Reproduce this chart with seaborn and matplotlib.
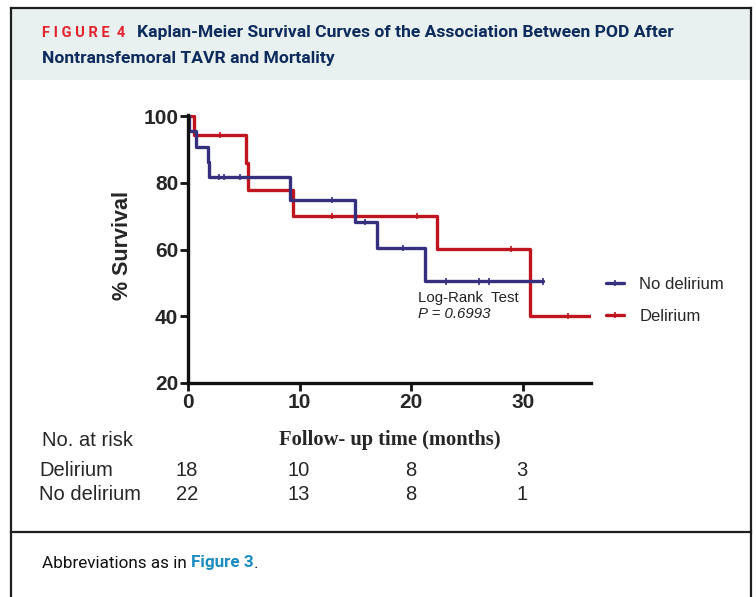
import numpy as np
import pandas as pd
import matplotlib
matplotlib.use("Agg")
import matplotlib.pyplot as plt
import seaborn as sns
from matplotlib.lines import Line2D
from matplotlib.patches import Rectangle

# ---------------- data ----------------
groups = ["No delirium", "Delirium"]
no_del_time = [0, 0.1, 0.7, 1.75, 1.85, 9.1, 15.0, 16.9, 21.2, 31.8]
no_del_surv = [100, 95.5, 90.9, 86.4, 81.8, 74.8, 68.3, 60.5, 50.5, 50.5]
del_time = [0, 0.5, 5.2, 5.4, 9.4, 22.3, 30.6, 36.1]
del_surv = [100, 94.4, 86.0, 77.9, 70.1, 60.2, 40.1, 40.1]
no_del_censor = [2.8, 3.2, 4.7, 12.9, 15.9, 19.3, 23.1, 26.1, 27.0, 31.8]
del_censor = [2.9, 12.9, 20.5, 28.9, 34.0]

risk_times = [0, 10, 20, 30]
risk_delirium = [18, 10, 8, 3]
risk_no_delirium = [22, 13, 8, 1]
x_ticks = [0, 10, 20, 30]
y_ticks = [20, 40, 60, 80, 100]

BLUE = "#34307e"
RED = "#c0151f"
palette = {"No delirium": BLUE, "Delirium": RED}

W, H = 756, 597
fig = plt.figure(figsize=(W / 100, H / 100), dpi=100)
fig.patch.set_facecolor("white")

def fx(x):
    return x / W

def fy(y):
    return 1 - y / H

# ---------------- frame / header ----------------
fig.patches.append(Rectangle((fx(11), fy(80)), fx(739), 72 / H, transform=fig.transFigure,
                             facecolor="#e9f1f0", edgecolor="none", zorder=0))
for (x0, y0, x1, y1) in [(10.5, 7.5, 750.5, 7.5), (10.5, 7.5, 10.5, 597), (750.5, 7.5, 750.5, 597),
                         (10.5, 532, 750.5, 532)]:
    fig.add_artist(Line2D([fx(x0), fx(x1)], [fy(y0), fy(y1)], transform=fig.transFigure,
                          color="#1e1e1e", lw=1.6))

title_fam = ["Liberation Sans Narrow", "Roboto", "DejaVu Sans"]
fig.text(fx(42), fy(33), "F I G U R E  4", color="#e2222d", fontsize=10.5, fontweight="bold",
         family=["Roboto", "DejaVu Sans"], va="center", ha="left")
fig.text(fx(137), fy(33), "Kaplan-Meier Survival Curves of the Association Between POD After",
         color="#0d2b5c", fontsize=12.6, fontweight="bold", family=title_fam, va="center", ha="left")
fig.text(fx(42), fy(58), "Nontransfemoral TAVR and Mortality",
         color="#0d2b5c", fontsize=12.6, fontweight="bold", family=title_fam, va="center", ha="left")

t1 = fig.text(fx(42), fy(563), "Abbreviations as in ", color="#111111", fontsize=12.3,
              family=title_fam, va="center", ha="left")
fig.canvas.draw()
bb = t1.get_window_extent()
t2 = fig.text(bb.x1 / W, fy(563), "Figure 3", color="#1a8cc0", fontsize=12.3, fontweight="bold",
              family=title_fam, va="center", ha="left")
fig.canvas.draw()
bb2 = t2.get_window_extent()
fig.text(bb2.x1 / W, fy(563), ".", color="#111111", fontsize=12.3, family=title_fam,
         va="center", ha="left")

# ---------------- KM plot ----------------
sns.set_style("ticks")
plt.rcParams["font.family"] = ["Liberation Sans", "DejaVu Sans"]

ax = fig.add_axes([fx(188), fy(383), fx(591) - fx(188), (383 - 114.5) / H])

curves = pd.concat([
    pd.DataFrame({"time": no_del_time, "surv": no_del_surv, "group": "No delirium"}),
    pd.DataFrame({"time": del_time, "surv": del_surv, "group": "Delirium"}),
], ignore_index=True)

def step_value(times, survs, t):
    idx = np.searchsorted(np.asarray(times), t, side="right") - 1
    return survs[idx]

censors = pd.concat([
    pd.DataFrame({"time": no_del_censor,
                  "surv": [step_value(no_del_time, no_del_surv, t) for t in no_del_censor],
                  "group": "No delirium"}),
    pd.DataFrame({"time": del_censor,
                  "surv": [step_value(del_time, del_surv, t) for t in del_censor],
                  "group": "Delirium"}),
], ignore_index=True)

sns.lineplot(data=curves, x="time", y="surv", hue="group", palette=palette,
             hue_order=["Delirium", "No delirium"],
             estimator=None, sort=False, drawstyle="steps-post", linewidth=2.4,
             legend=False, ax=ax)
sns.scatterplot(data=censors, x="time", y="surv", hue="group", palette=palette,
                marker="|", s=22, linewidth=1.2, legend=False, ax=ax, zorder=5)

ax.set_xlim(0, 36.1)
ax.set_ylim(20, 100.5)
ax.set_xticks(x_ticks)
ax.set_yticks(y_ticks)
ax.set_xlabel("")
ax.set_ylabel("")
for s in ["top", "right"]:
    ax.spines[s].set_visible(False)
for s in ["left", "bottom"]:
    ax.spines[s].set_linewidth(2.4)
    ax.spines[s].set_color("#111111")
ax.tick_params(axis="both", direction="out", length=6, width=2.0, color="#111111",
               labelsize=15, pad=1)
for lab in ax.get_xticklabels() + ax.get_yticklabels():
    lab.set_fontweight("bold")

fig.text(fx(122), fy(246), "% Survival", rotation=90, fontsize=15.5, fontweight="bold",
         va="center", ha="center")

ax.text(20.6, 45.6, "Log-Rank  Test", fontsize=10.8, va="center", ha="left", color="#222222")
ax.text(20.6, 40.6, "P = 0.6993", fontsize=10.8, va="center", ha="left", style="italic",
        color="#222222")

handles = [Line2D([0], [0], color=BLUE, lw=2.4, marker="|", markersize=5, markeredgewidth=1.2),
           Line2D([0], [0], color=RED, lw=2.4, marker="|", markersize=5, markeredgewidth=1.2)]
fig.legend(handles, ["No delirium", "Delirium"], loc="center left",
           bbox_to_anchor=(fx(606), fy(300.5)), frameon=False, fontsize=12,
           handlelength=1.1, handletextpad=0.9, labelspacing=1.0,
           borderpad=0, borderaxespad=0)

# ---------------- at-risk table ----------------
fig.text(fx(390), fy(440), "Follow- up time (months)", fontsize=14.8, fontweight="bold",
         family=["Liberation Serif", "DejaVu Serif"], va="center", ha="center")
fig.text(fx(42), fy(440), "No. at risk", fontsize=14.5, va="center", ha="left")
fig.text(fx(39), fy(471), "Delirium", fontsize=14.5, va="center", ha="left")
fig.text(fx(39), fy(495), "No delirium", fontsize=14.5, va="center", ha="left")

trans = ax.get_xaxis_transform()
for t, a, b in zip(risk_times, risk_delirium, risk_no_delirium):
    ax.annotate(str(a), xy=(t, 0), xycoords=trans, xytext=(-1, -(471 - 383)),
                textcoords="offset pixels", ha="center", va="center", fontsize=14.5,
                annotation_clip=False)
    ax.annotate(str(b), xy=(t, 0), xycoords=trans, xytext=(-1, -(495 - 383)),
                textcoords="offset pixels", ha="center", va="center", fontsize=14.5,
                annotation_clip=False)

fig.savefig("out.png", dpi=100)
